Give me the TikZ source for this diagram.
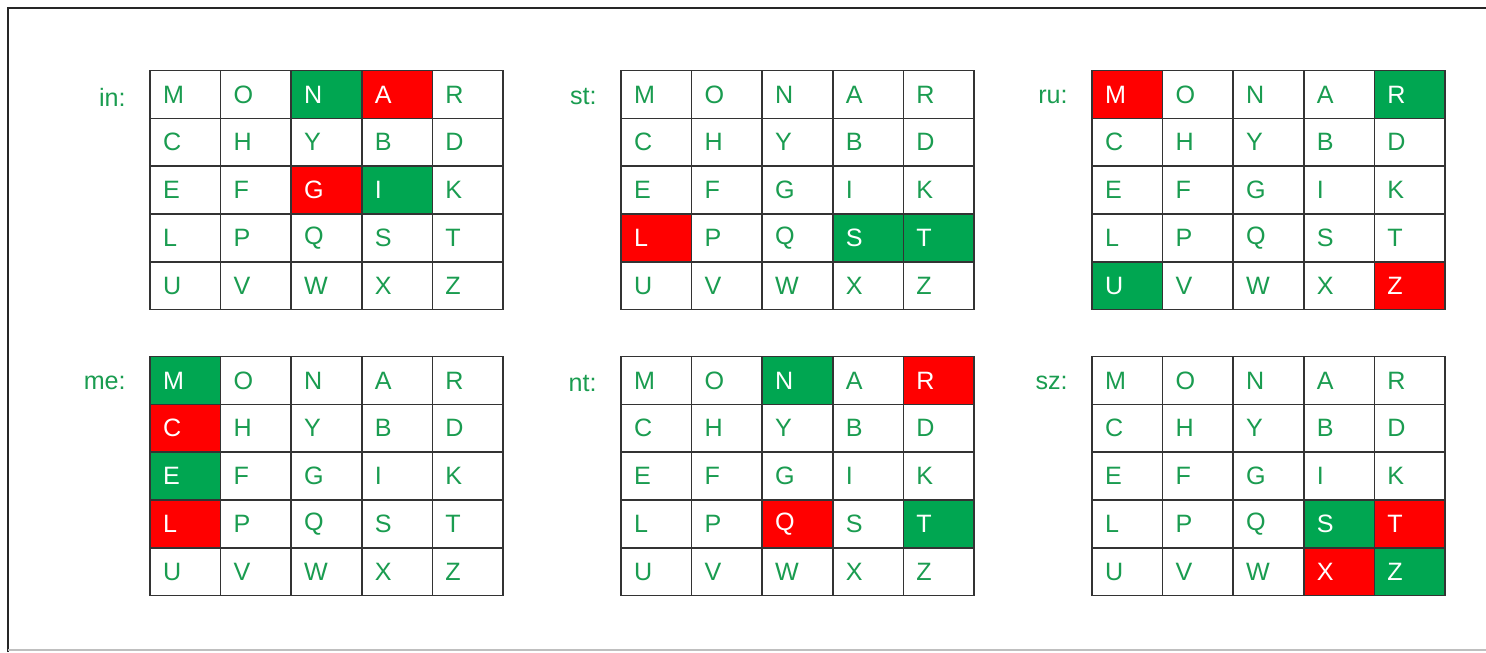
\documentclass[tikz,border=0pt]{standalone}
\usepackage{fontspec}
\setmainfont{Liberation Sans}
\usetikzlibrary{positioning}
\definecolor{CellGreen}{HTML}{00A651}
\definecolor{CellRed}{HTML}{FF0000}
\definecolor{LetterGreen}{HTML}{1A9C50}
\definecolor{GridLine}{HTML}{333333}
% highlighted squares: grid, column, row, colour
\newcommand\hlcell[4]{\expandafter\def\csname hl#1-#2-#3\endcsname{#4}}
\hlcell{1}{2}{0}{CellGreen}\hlcell{1}{3}{0}{CellRed}\hlcell{1}{2}{2}{CellRed}\hlcell{1}{3}{2}{CellGreen}
\hlcell{2}{0}{3}{CellRed}\hlcell{2}{3}{3}{CellGreen}\hlcell{2}{4}{3}{CellGreen}
\hlcell{3}{0}{0}{CellRed}\hlcell{3}{4}{0}{CellGreen}\hlcell{3}{0}{4}{CellGreen}\hlcell{3}{4}{4}{CellRed}
\hlcell{4}{0}{0}{CellGreen}\hlcell{4}{0}{1}{CellRed}\hlcell{4}{0}{2}{CellGreen}\hlcell{4}{0}{3}{CellRed}
\hlcell{5}{2}{0}{CellGreen}\hlcell{5}{4}{0}{CellRed}\hlcell{5}{2}{3}{CellRed}\hlcell{5}{4}{3}{CellGreen}
\hlcell{6}{3}{3}{CellGreen}\hlcell{6}{4}{3}{CellRed}\hlcell{6}{3}{4}{CellRed}\hlcell{6}{4}{4}{CellGreen}

\begin{document}
\begin{tikzpicture}[
    x=0.02cm, y=-0.02cm,
    font=\fontsize{14.3}{17}\selectfont,
    cell/.style={align=left, text width=0.892cm, inner xsep=0.26cm,
                 inner ysep=0pt, minimum height=0.956cm, outer sep=0pt},
    edge/.style={draw=GridLine, line width=0.85pt},
    key/.style={anchor=east, text=LetterGreen, inner sep=0pt},
    frame/.style={line width=1.3pt, black!85},
  ]
    \useasboundingbox (0,0) rectangle (1486,652);
    % frame
    \draw[frame] (8,652) -- (8,8) -- (1486,8);
    \draw[black!25, line width=0.6pt] (8,650) -- (1486,650);
    % the six squares
    \foreach \g/\ox/\oy/\lab in {1/150/70/in, 2/621/70/st, 3/1092/70/ru,
                                 4/150/356/me, 5/621/356/nt, 6/1092/356/sz}{
      \node[key] (lab\g) at (\ox-24,\oy+27) {\lab:};
      \foreach \ch [count=\i from 0] in {M,O,N,A,R,C,H,Y,B,D,E,F,G,I,K,L,P,Q,S,T,U,V,W,X,Z}{
        \pgfmathtruncatemacro\c{mod(\i,5)}
        \pgfmathtruncatemacro\r{div(\i,5)}
        \ifcsname hl\g-\c-\r\endcsname
          \edef\cf{\csname hl\g-\c-\r\endcsname}\def\tc{white}
        \else
          \def\cf{white}\def\tc{LetterGreen}
        \fi
        \node[cell, fill=\cf, text=\tc] (g\g-\c-\r)
          at (\ox+70.6*\c+35.3, \oy+47.8*\r+24.5) {\ch};
      }
      % cell borders on top of the fills
      \foreach \c in {0,...,4}
        \foreach \r in {0,...,4}
          \draw[edge] (g\g-\c-\r.north west) rectangle (g\g-\c-\r.south east);
    }
\end{tikzpicture}
\end{document}
